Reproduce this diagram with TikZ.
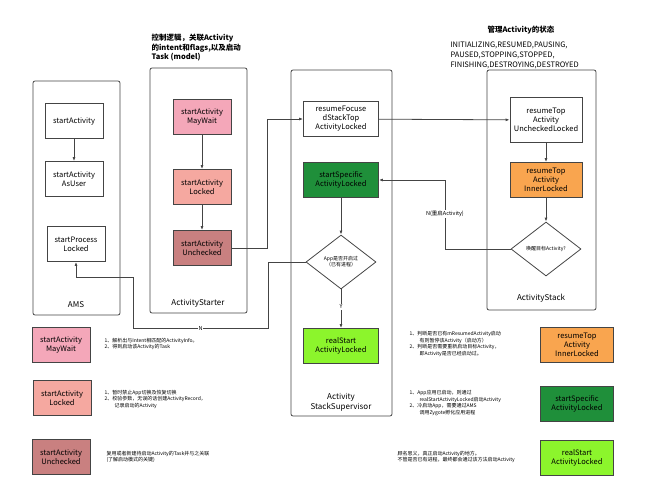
\documentclass[tikz,border=0pt]{standalone}
\usepackage{fontspec}
\setmainfont{Noto Sans CJK SC}
\usetikzlibrary{shapes.geometric,arrows.meta}
\definecolor{maywait}{HTML}{F4A7B9}
\definecolor{locked}{HTML}{F5A8A0}
\definecolor{unchecked}{HTML}{C98080}
\definecolor{specific}{HTML}{1F8F3A}
\definecolor{realstart}{HTML}{8CF52C}
\definecolor{inner}{HTML}{F9A54F}
\definecolor{edge}{HTML}{444444}
\tikzset{
  fn/.style={draw=edge, thick, minimum width=58pt, minimum height=35pt, align=center, font=\fontsize{7.5}{9}\selectfont, inner sep=1pt},
  group/.style={draw=edge, thick, rounded corners=2pt},
  glabel/.style={align=center, font=\fontsize{8}{10}\selectfont},
  cond/.style={draw=edge, thick, diamond, aspect=1.3, minimum width=70pt, minimum height=54pt, inner sep=0pt, align=center, font=\fontsize{5}{6}\selectfont},
  note/.style={anchor=west, align=left, font=\fontsize{5}{6.5}\selectfont},
  tag/.style={fill=white, inner sep=1pt, font=\fontsize{5.5}{6}\selectfont},
  flow/.style={draw=edge, thick, -{Latex[length=4pt,width=3pt]}},
  title/.style={align=left, font=\fontsize{7.5}{9.5}\selectfont\bfseries}
}
\begin{document}
\begin{tikzpicture}[x=1pt,y=-1pt]
\useasboundingbox (0,0) rectangle (663,480);
% containers
\draw[group] (33,81) rectangle (120,315); \node[glabel] at (76,305) {AMS};
\draw[group] (150,68) rectangle (247,313); \node[glabel] at (198,303) {ActivityStarter};
\draw[group] (291,70) rectangle (392,416);
\node[glabel] at (341,402) {Activity\\StackSupervisor};
\draw[group] (487,70) rectangle (596,310); \node[glabel] at (541,298) {ActivityStack};
% titles
\node[title, anchor=north west] at (148,31) {控制逻辑，关联Activity\\的intent和flags,以及启动\\Task (model)};
\node[title] at (521,30) {管理Activity的状态};
\node[anchor=north west, align=left, font=\fontsize{7.5}{10}\selectfont] at (447,38) {INITIALIZING,RESUMED,PAUSING,\\PAUSED,STOPPING,STOPPED,\\FINISHING,DESTROYING,DESTROYED};
% AMS
\node[fn] (sa) at (74,121) {startActivity};
\node[fn] (sau) at (74,179) {startActivity\\AsUser};
\node[fn] (spl) at (76,244) {startProcess\\Locked};
% ActivityStarter
\node[fn, fill=maywait] (mw) at (202,117) {startActivity\\MayWait};
\node[fn, fill=locked] (lk) at (202,187) {startActivity\\Locked};
\node[fn, fill=unchecked] (uc) at (202,248) {startActivity\\Unchecked};
% ActivityStackSupervisor
\node[fn, minimum width=75pt] (rf) at (341,119) {resumeFocuse\\dStackTop\\ActivityLocked};
\node[fn, minimum width=75pt, fill=specific] (ss) at (341,180) {startSpecific\\ActivityLocked};
\node[cond] (app) at (341,262) {App是否开启过\\（已有进程）};
\node[fn, minimum width=75pt, fill=realstart] (rs) at (341,346) {realStart\\ActivityLocked};
% ActivityStack
\node[fn, minimum width=72pt, minimum height=45pt] (ru) at (546,120) {resumeTop\\Activity\\UncheckedLocked};
\node[fn, minimum width=72pt, fill=inner] (ri) at (546,180) {resumeTop\\Activity\\InnerLocked};
\node[cond] (wk) at (546,249) {唤醒目标Activity?};
% arrows
\draw[flow] (sa) -- (sau);
\draw[flow] (mw) -- (lk);
\draw[flow] (lk) -- (uc);
\draw[flow] (uc.east) -- ++(36,0) |- (rf.west);
\draw[flow] (rf) -- (ru);
\draw[flow] (ru) -- (ri);
\draw[flow] (ri) -- (wk);
\draw[flow] (wk.west) -| (445,180) -- (ss.east);
\node[tag] at (445,214) {N(重启Activity)};
\draw[flow] (ss) -- (app);
\draw[flow] (app) -- node[tag, pos=0.45] {Y} (rs);
\draw[flow] (app.west) -- (268,262) -- (268,328) -- node[tag, inner sep=0.5pt] {N} (133,328) -- (133,277) -| (spl.south);
% legend left
\node[fn, fill=maywait] (lmw) at (61,345) {startActivity\\MayWait};
\node[fn, fill=locked] (llk) at (62,398) {startActivity\\Locked};
\node[fn, fill=unchecked] (luc) at (61,457) {startActivity\\Unchecked};
\node[note] at (101,344) {1、解析出与Intent相匹配的ActivityInfo。\\2、得到启动该Activity的Task};
\node[note] at (101,399) {1、暂时禁止App切换及恢复切换\\2、校验参数，无误的话创建ActivityRecord，\\\hspace{10pt}记录启动的Activity};
\node[note] at (103,457) {复用或者新建待启动Activity的Task并与之关联\\(了解启动模式的关键)};
% legend right
\node[fn, minimum width=73pt, fill=inner] (lri) at (577,345) {resumeTop\\Activity\\InnerLocked};
\node[fn, minimum width=73pt, fill=specific] (lss) at (577,404) {startSpecific\\ActivityLocked};
\node[fn, minimum width=73pt, fill=realstart] (lrs) at (577,458) {realStart\\ActivityLocked};
\node[note] at (406,344) {1、判断是否已有mResumedActivity启动\\\hspace{10pt}有则暂停该Activity（启动方）\\2、判断是否需要重新启动目标Activity，\\\hspace{10pt}即Activity是否已经启动过。};
\node[note] at (406,403) {1、App应用已启动，则通过\\\hspace{10pt}realStartActivityLocked启动Activity\\2、冷启动App，需要通过AMS\\\hspace{10pt}调用Zygote孵化应用进程};
\node[note] at (394,457) {顾名思义，真正启动Activity的地方。\\不管是否已有进程，最终都会通过该方法启动Activity};
\end{tikzpicture}
\end{document}
